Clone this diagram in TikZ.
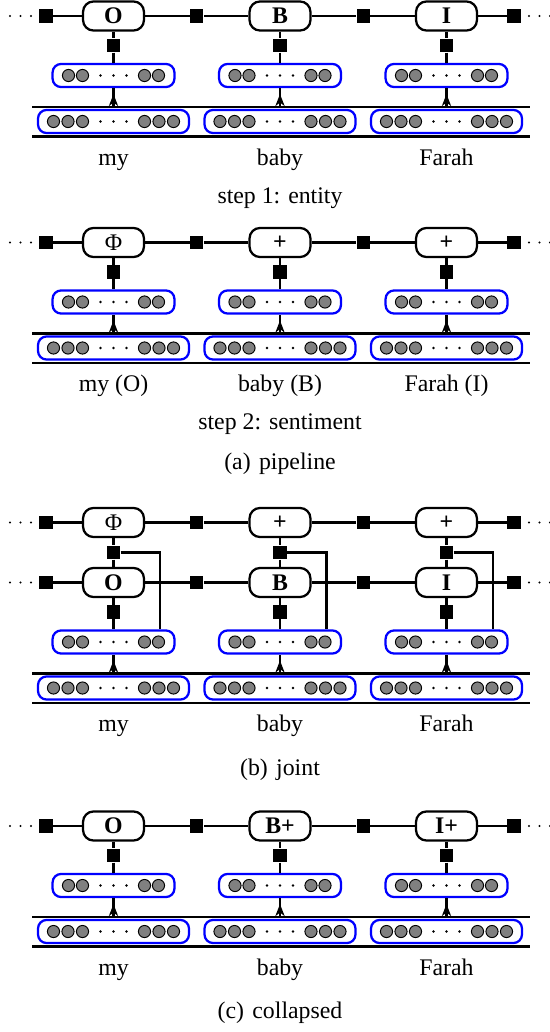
\documentclass[tikz,border=0pt]{standalone}
\usepackage{fontspec}
\setmainfont{Liberation Serif}
\usetikzlibrary{arrows.meta}

\tikzset{
  conn/.style={line width=1pt},
  lab/.style={draw, line width=0.95pt, rounded corners=4.4pt, minimum width=25.6pt,
    minimum height=12.2pt, inner sep=0pt, fill=white, font=\bfseries},
  fac/.style={fill=black, minimum size=5.6pt, inner sep=0pt},
  hid/.style={draw=blue, line width=0.95pt, rounded corners=3.6pt, minimum height=9.7pt, inner sep=0pt},
  unit/.style={draw=black, fill=gray, line width=0.4pt},
  rule/.style={line width=0.95pt},
  word/.style={anchor=base, inner sep=0pt},
  uptip/.style={-{Stealth[length=5pt,width=3.8pt,inset=1.4pt]}, line width=1pt}
}

% one chain of label boxes joined by factor squares
\newcommand\labrow[5]{%
  \node[lab] (#1a) at (113.5,#2) {#3};
  \node[lab] (#1b) at (280,#2) {#4};
  \node[lab] (#1c) at (446.5,#2) {#5};
  \node[fac] (#1f0) at (46,#2) {};
  \node[fac] (#1f1) at (196.75,#2) {};
  \node[fac] (#1f2) at (363.25,#2) {};
  \node[fac] (#1f3) at (514,#2) {};
  \draw[conn] (#1f0) -- (#1a) -- (#1f1) -- (#1b) -- (#1f2) -- (#1c) -- (#1f3);
  \foreach \dx in {10,20.5,31,529,539.5,550} \fill (\dx,#2) circle (0.5pt);
}

% word encoders under a chain: #1 prefix, #2 vertical shift, #3 chain prefix, #4-#6 words
\newcommand\encsec[6]{%
  \draw[rule] (32,107+#2) -- (530,107+#2);
  \draw[rule] (32,136.5+#2) -- (530,136.5+#2);
  \foreach \x/\k/\w in {113.5/a/{#4},280/b/{#5},446.5/c/{#6}}{
    \node[fac] (#1v\k) at (\x,45.5+#2) {};
    \node[hid, minimum width=51.2pt] (#1h\k) at (\x,75.5+#2) {};
    \node[hid, minimum width=63.4pt] (#1l\k) at (\x,121.5+#2) {};
    \draw[conn] (#3\k) -- (#1v\k) -- (#1h\k);
    \foreach \d in {-45,-31,31,45}
      \filldraw[unit] (\x+\d,75.5+#2) circle (2.55pt);
    \foreach \d in {-60,-45.5,-31,31,45.5,60}
      \filldraw[unit] (\x+\d,121.5+#2) circle (2.55pt);
    \foreach \d in {-13,0,13}{
      \fill (\x+\d,75.5+#2) circle (0.55pt);
      \fill (\x+\d,121.5+#2) circle (0.55pt);
    }
    \coordinate (#1a\k) at (\x,107+#2);
    \draw[conn] (#1a\k) -- (#1h\k.south);
    \draw[uptip] (#1a\k) -- ++(0,-13);
    \node[word] (#1w\k) at (\x,165+#2) {\w};
  }
}

\begin{document}
\begin{tikzpicture}[x=0.42pt,y=-0.42pt]
\useasboundingbox (0,0) rectangle (549,1032);

% (a) pipeline, step 1
\labrow{pa}{16}{O}{B}{I}
\encsec{ea}{0}{pa}{my}{baby}{Farah}
\node[word] (step1) at (280,203) {step 1: entity};

% (a) pipeline, step 2
\labrow{pb}{242.5}{\normalfont Φ}{+}{+}
\encsec{eb}{226.5}{pb}{my (O)}{baby (B)}{Farah (I)}
\node[word] (step2) at (280,429.5) {step 2: sentiment};
\node[word] (capa) at (280,469.5) {(a)\hspace{3.5pt}pipeline};

% (b) joint
\labrow{pj}{522.5}{\normalfont Φ}{+}{+}
\labrow{pc}{582.5}{O}{B}{I}
\encsec{ec}{566.5}{pc}{my}{baby}{Farah}
\foreach \x/\k in {113.5/a,280/b,446.5/c}{
  \node[fac] (jm\k) at (\x,552.5) {};
  \coordinate (jc\k) at (\x+46.5,552.5);
  \draw[conn] (pj\k) -- (jm\k) -- (pc\k);
  \draw[conn] (jm\k.east) -- (jc\k) -- (jc\k |- ech\k.north);
}
\node[word] (capb) at (280,775) {(b)\hspace{3.5pt}joint};

% (c) collapsed
\labrow{pd}{826}{O}{B+}{I+}
\encsec{ed}{810}{pd}{my}{baby}{Farah}
\node[word] (capc) at (280,1018) {(c)\hspace{3.5pt}collapsed};
\end{tikzpicture}
\end{document}
